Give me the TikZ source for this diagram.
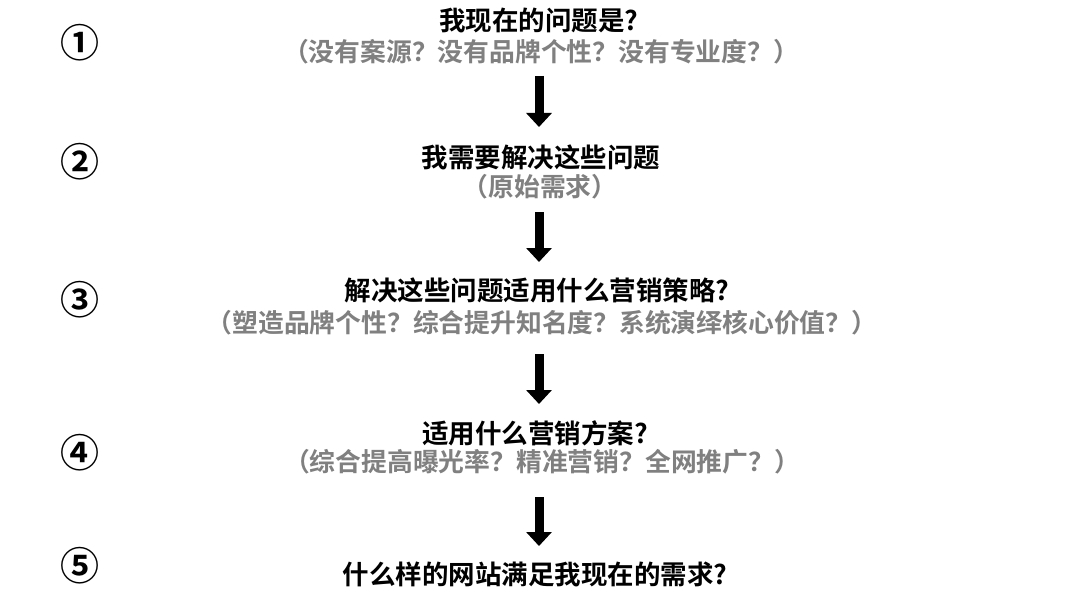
\documentclass[tikz,border=0pt]{standalone}
\usepackage{fontspec}
\newfontfamily\cjk{Noto Sans CJK SC}[BoldFont=* Bold]
\usetikzlibrary{arrows.meta}
\definecolor{subgray}{RGB}{128,128,128}
\tikzset{
  title/.style={font=\cjk\bfseries\fontsize{26.5}{30}\selectfont, text=black, inner sep=0pt, anchor=center},
  subtitle/.style={font=\cjk\bfseries\fontsize{25.8}{29}\selectfont, text=subgray, inner sep=0pt, anchor=center},
  num/.style={font=\cjk\bfseries\fontsize{39}{40}\selectfont, text=black, inner sep=0pt, anchor=center},
  bigarrow/.style={line width=9pt, -{Triangle[width=25pt,length=14pt]}, black}
}
\begin{document}
\begin{tikzpicture}[x=1pt,y=-1pt]
\useasboundingbox (0,0) rectangle (1080,594);
\fill[white] (0,0) rectangle (1080,594);
% numbers
\node[num] (n1) at (80,43) {①};
\node[num] (n2) at (80,162) {②};
\node[num] (n3) at (80,300) {③};
\node[num] (n4) at (80,453) {④};
\node[num] (n5) at (80,566) {⑤};
% texts
\node[title] (t1) at (539,20) {我现在的问题是?};
\node[subtitle] (s1) at (541,52) {（没有案源？没有品牌个性？没有专业度？）};
\node[title] (t2) at (541,157) {我需要解决这些问题};
\node[subtitle] (s2) at (540,187) {（原始需求）};
\node[title] (t3) at (537,290) {解决这些问题适用什么营销策略?};
\node[subtitle] (s3) at (542,323) {（塑造品牌个性？综合提升知名度？系统演绎核心价值？）};
\node[title] (t4) at (535,433) {适用什么营销方案?};
\node[subtitle] (s4) at (542,462) {（综合提高曝光率？精准营销？全网推广？）};
\node[title] (t5) at (535,574) {什么样的网站满足我现在的需求?};
% arrows
\coordinate (a1s) at (539,76);  \coordinate (a1e) at (539,127);
\coordinate (a2s) at (539,212); \coordinate (a2e) at (539,262);
\coordinate (a3s) at (539,354); \coordinate (a3e) at (539,404);
\coordinate (a4s) at (539,497); \coordinate (a4e) at (539,546);
\draw[bigarrow] (a1s) -- (a1e);
\draw[bigarrow] (a2s) -- (a2e);
\draw[bigarrow] (a3s) -- (a3e);
\draw[bigarrow] (a4s) -- (a4e);
\end{tikzpicture}
\end{document}
